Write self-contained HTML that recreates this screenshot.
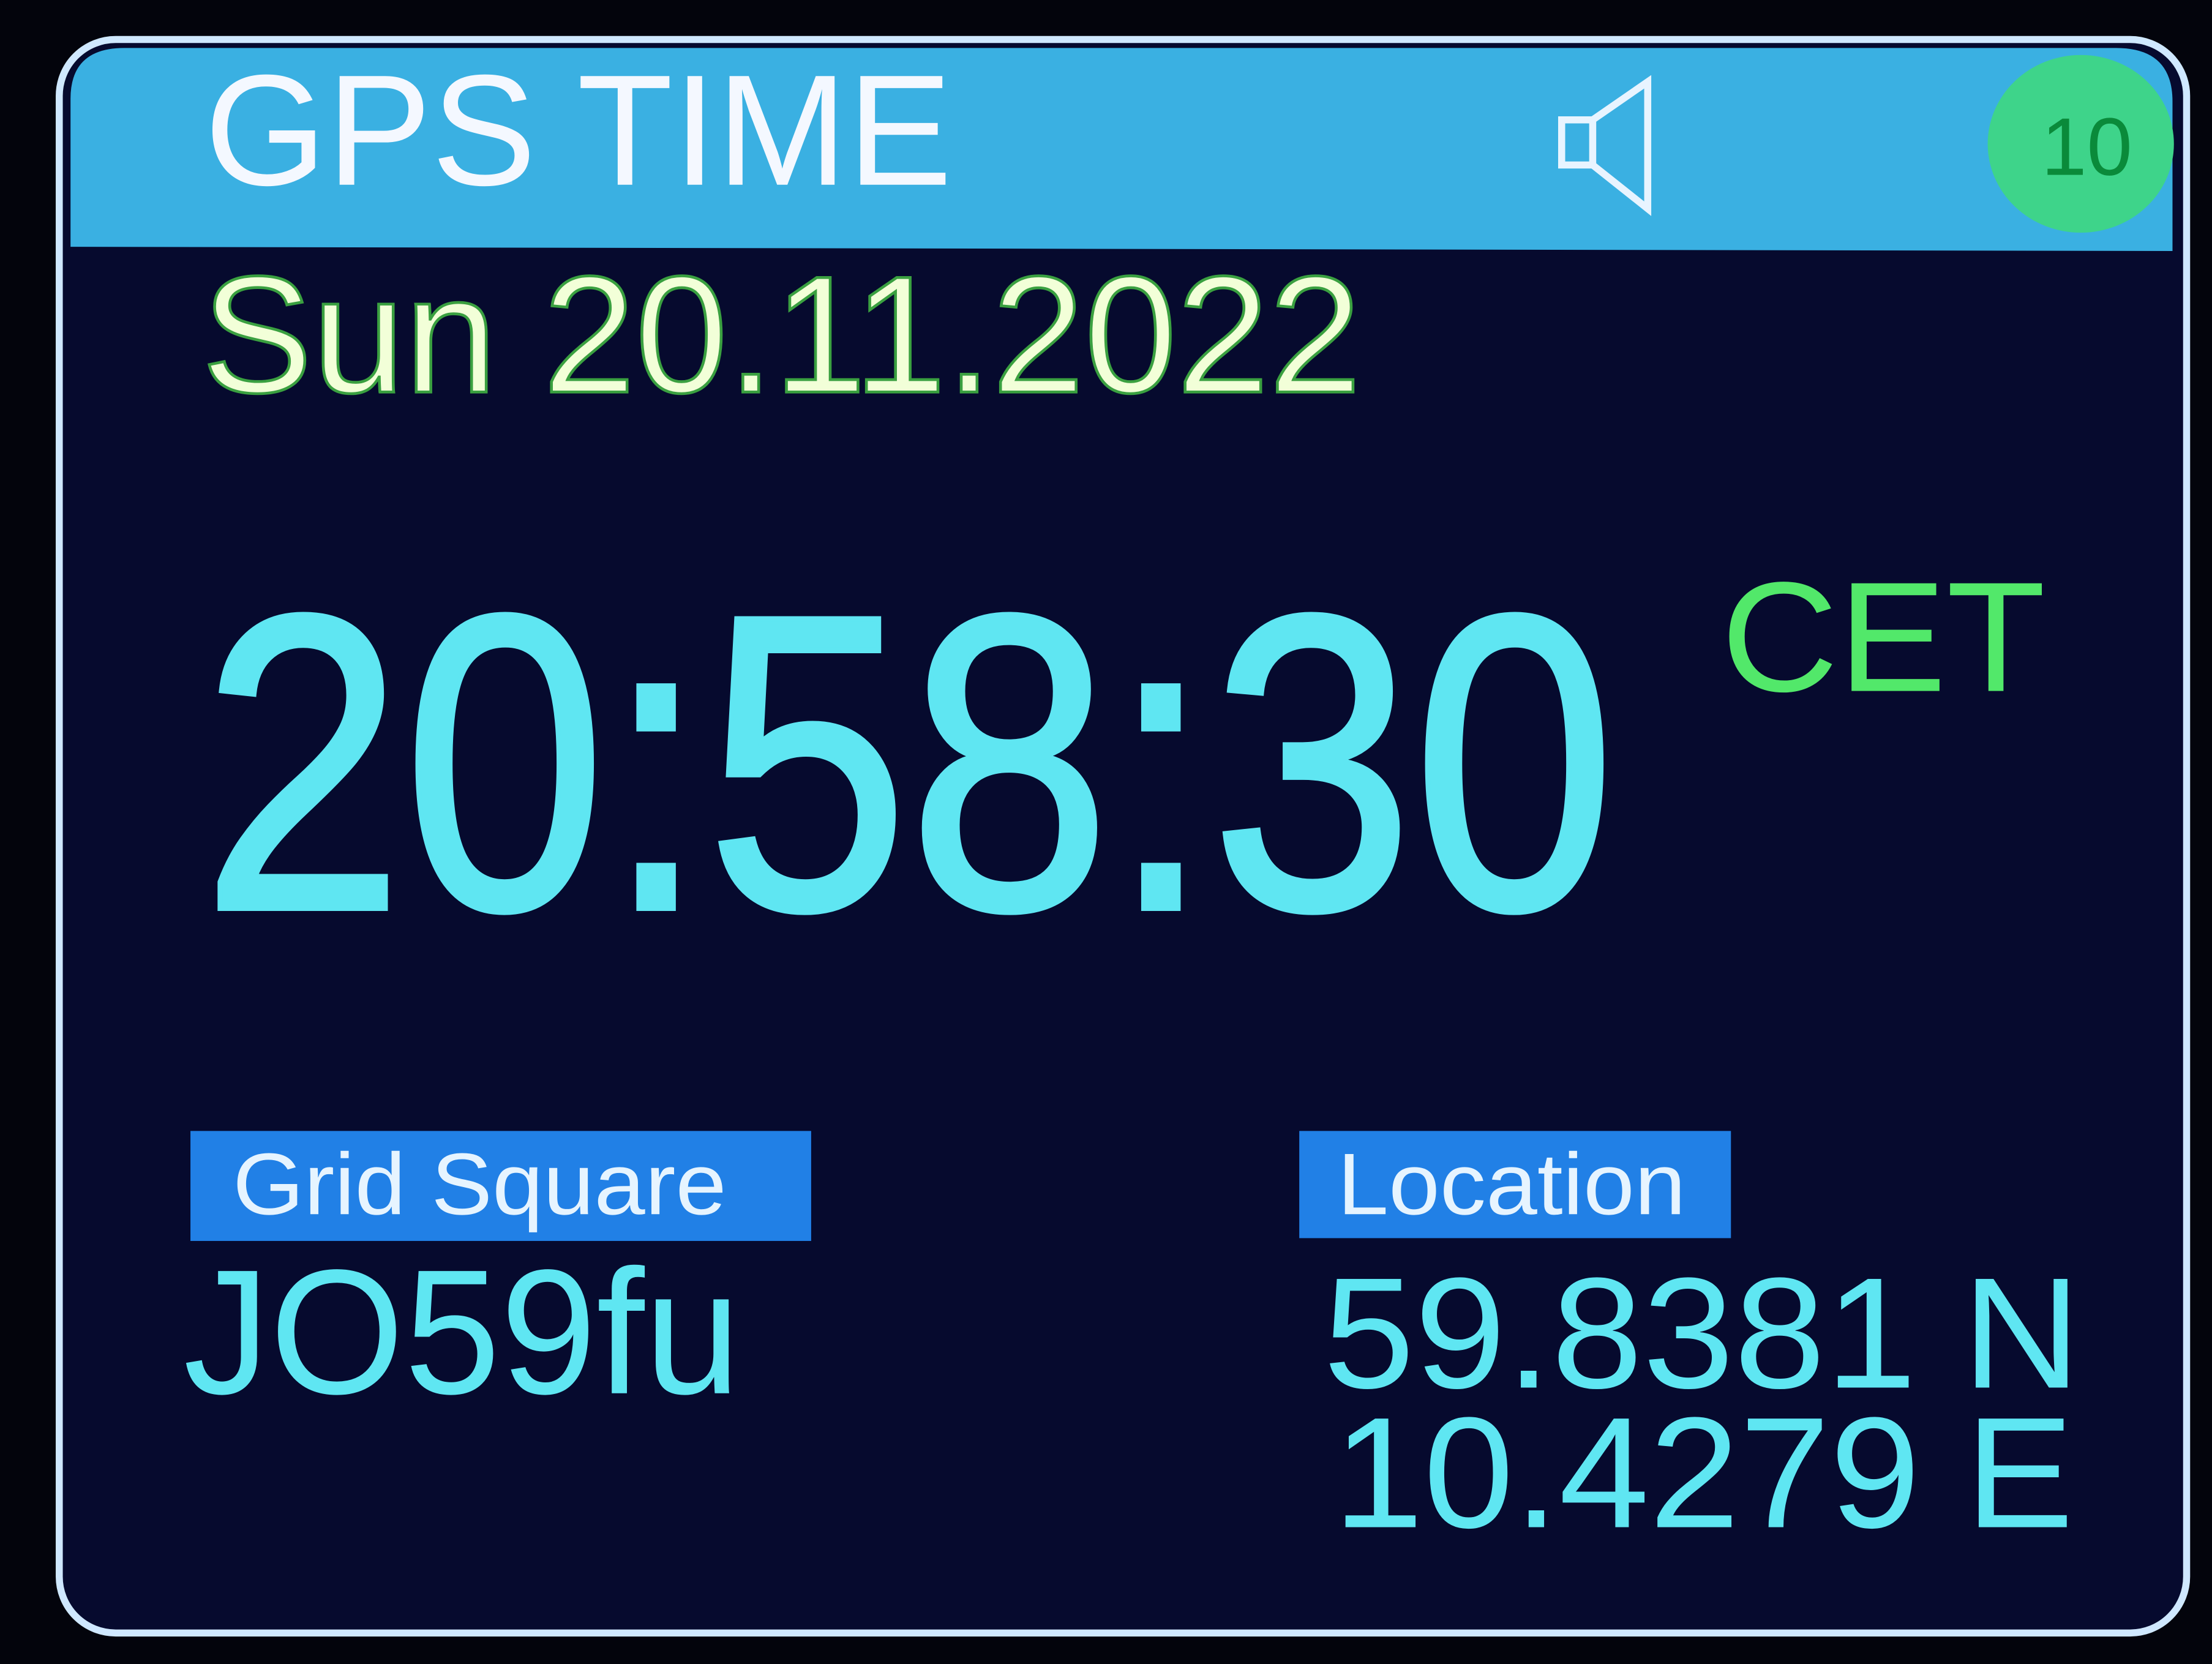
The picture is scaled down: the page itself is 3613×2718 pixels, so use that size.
<!DOCTYPE html>
<html><head><meta charset="utf-8"><style>
html,body{margin:0;padding:0;background:#02030a;}
svg{display:block;}
text{font-family:"Liberation Sans",sans-serif;}
</style></head><body>
<svg width="3613" height="2718" viewBox="0 0 1568 1180" preserveAspectRatio="none">
<rect x="0" y="0" width="1568" height="1180" fill="#03040c"/>
<rect x="42" y="28" width="1508" height="1130" rx="40" fill="#060a2e" stroke="#cfe8ff" stroke-width="5"/>
<path d="M50 175 L50 70 Q50 34 88 34 L1500 34 Q1540 34 1540 72 L1540 178 Z" fill="#3ab0e2"/>
<text x="145" y="131" font-size="112" fill="#f4f8ff" textLength="530" lengthAdjust="spacingAndGlyphs">GPS TIME</text>
<g fill="none" stroke="#e8f4ff" stroke-width="5">
<rect x="1107" y="85" width="22" height="32"/>
<path d="M1129 85 L1168 58 L1168 148 L1129 117"/>
</g>
<ellipse cx="1475" cy="102" rx="66" ry="63" fill="#3ed48a"/>
<text x="1447" y="124" font-size="58" fill="#0a8a3a">10</text>
<text x="143" y="278" font-size="118" fill="#f2ffd8" stroke="#3aa040" stroke-width="2" textLength="822" lengthAdjust="spacingAndGlyphs">Sun 20.11.2022</text>
<text x="143" y="644" font-size="298" fill="#5fe6f2" stroke="#5fe6f2" stroke-width="4" textLength="1002" lengthAdjust="spacingAndGlyphs">20:58:30</text>
<text x="1220" y="490" font-size="111" fill="#52e86a" textLength="230" lengthAdjust="spacingAndGlyphs">CET</text>
<rect x="135" y="802" width="440" height="78" fill="#2180e6"/>
<text x="165" y="861" font-size="62" fill="#e6f4ff" textLength="350" lengthAdjust="spacingAndGlyphs">Grid Square</text>
<rect x="921" y="802" width="306" height="76" fill="#2180e6"/>
<text x="948" y="861" font-size="62" fill="#e6f4ff" textLength="247" lengthAdjust="spacingAndGlyphs">Location</text>
<text x="130" y="988" font-size="126" fill="#5fe6f2" textLength="395" lengthAdjust="spacingAndGlyphs">JO59fu</text>
<text x="938" y="984" font-size="112" fill="#5fe6f2" textLength="537" lengthAdjust="spacingAndGlyphs">59.8381 N</text>
<text x="945" y="1083" font-size="112" fill="#5fe6f2" textLength="525" lengthAdjust="spacingAndGlyphs">10.4279 E</text>
</svg>
</body></html>
